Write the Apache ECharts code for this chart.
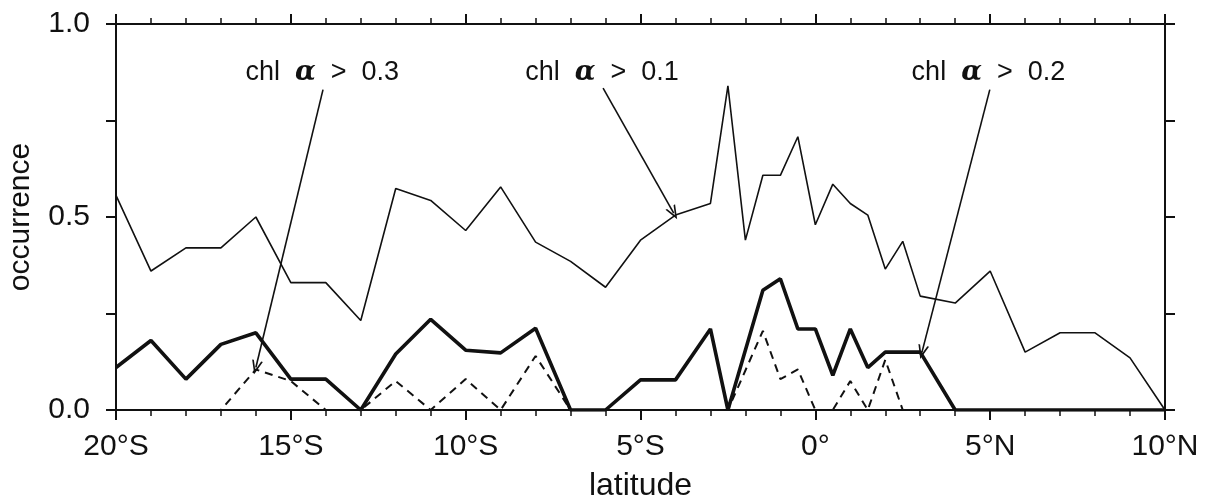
<!DOCTYPE html>
<html>
<head>
<meta charset="utf-8">
<script src="https://cdn.jsdelivr.net/npm/echarts@6/dist/echarts.min.js"></script>
<style>
html,body{margin:0;padding:0;background:#fff;}
#c{width:1207px;height:499px;}
</style>
</head>
<body>
<div id="c"></div>
<script>
// ---- data ----
const lat = [-20,-19,-18,-17,-16,-15,-14,-13,-12,-11,-10,-9,-8,-7,-6,-5,-4,-3,-2.5,-2,-1.5,-1,-0.5,0,0.5,1,1.5,2,2.5,3,4,5,6,7,8,9,10];
const chl01 = [0.556,0.36,0.42,0.42,0.50,0.33,0.33,0.232,0.574,0.543,0.465,0.578,0.435,0.385,0.318,0.44,0.505,0.535,0.84,0.44,0.608,0.608,0.708,0.48,0.585,0.535,0.505,0.365,0.437,0.295,0.277,0.36,0.15,0.2,0.2,0.135,0.0];
const chl02 = [0.11,0.18,0.08,0.17,0.20,0.08,0.08,0,0.145,0.235,0.155,0.148,0.212,0,0,0.078,0.078,0.21,0,null,0.31,0.34,0.21,0.21,0.09,0.21,0.11,0.15,null,0.15,0,0,0,0,0,0,0];
const chl03 = [0,0,0,0,0.105,0.075,0,0,0.075,0,0.08,0,0.14,0,0,0,0,0,0,null,0.205,0.08,0.105,0,0,0.075,0,0.13,0,0,0,0,0,0,0,0,0];

const xTickValues = [-20,-15,-10,-5,0,5,10];
const xTickLabels = ['20°S','15°S','10°S','5°S','0°','5°N','10°N'];
const yTickValues = [0,0.5,1.0];
const yTickLabels = ['0.0','0.5','1.0'];

const annThreshold = ['0.3','0.1','0.2'];
const annLat = [-14.1,-6.1,4.95];
const annVal = [0.873,0.873,0.873];
const arrowFromLat = [-14.08,-6.07,4.99];
const arrowFromVal = [0.83,0.834,0.83];
const arrowToLat = [-16.0,-4.05,3.05];
const arrowToVal = [0.11,0.51,0.15];

// ---- chart ----
const FONT = 'Liberation Sans';
const INK = '#111';
const pairs = (ys) => lat.map((x,i)=>[x, ys[i]]);

const chart = echarts.init(document.getElementById('c'), null, {renderer:'canvas'});

const xAxisCommon = {
  type:'value', min:-20, max:10, interval:5,
  axisLine:{show:true, onZero:false, lineStyle:{color:INK, width:2}},
  axisTick:{show:true, length:10, lineStyle:{color:INK, width:2}},
  minorTick:{show:true, splitNumber:5, length:6, lineStyle:{color:INK, width:1.5}},
  splitLine:{show:false}
};
const yAxisCommon = {
  type:'value', min:0, max:1, interval:0.25,
  axisLine:{show:true, onZero:false, lineStyle:{color:INK, width:2}},
  axisTick:{show:true, length:10, lineStyle:{color:INK, width:2}},
  splitLine:{show:false}
};

const arrowPath = 'path://M0,100 L50,0 L100,100 L84,100 L50,32 L16,100 Z';

chart.setOption({
  animation:false,
  backgroundColor:'#fff',
  grid:{left:116, right:42, top:24, bottom:89, containLabel:false, outerBoundsMode:'none'},
  xAxis:[
    Object.assign({}, xAxisCommon, {
      position:'bottom',
      name:'latitude', nameLocation:'middle', nameGap:60,
      nameTextStyle:{fontFamily:FONT, fontSize:32, color:INK},
      axisLabel:{show:true, margin:22, fontFamily:FONT, fontSize:30, color:INK,
        formatter:(v)=>{const i=xTickValues.indexOf(v); return i>=0?xTickLabels[i]:'';}}
    }),
    Object.assign({}, xAxisCommon, {position:'top', axisLabel:{show:false}})
  ],
  yAxis:[
    Object.assign({}, yAxisCommon, {
      position:'left',
      name:'occurrence', nameLocation:'middle', nameGap:80,
      nameTextStyle:{fontFamily:FONT, fontSize:30, color:INK},
      axisLabel:{show:true, margin:26, fontFamily:FONT, fontSize:30, color:INK,
        formatter:(v)=>{const i=yTickValues.findIndex(t=>Math.abs(t-v)<1e-9); return i>=0?yTickLabels[i]:'';}}
    }),
    Object.assign({}, yAxisCommon, {position:'right', axisLabel:{show:false}})
  ],
  series:[
    {
      name:'chl a > 0.1', type:'line', data:pairs(chl01), showSymbol:false, connectNulls:true,
      lineStyle:{color:INK, width:1.6}, z:3
    },
    {
      name:'chl a > 0.2', type:'line', data:pairs(chl02), showSymbol:false, connectNulls:true,
      lineStyle:{color:INK, width:3.6}, z:4
    },
    {
      name:'chl a > 0.3', type:'line', data:pairs(chl03), showSymbol:false, connectNulls:true,
      lineStyle:{color:INK, width:2, type:[8,6]}, z:2
    },
    {
      name:'annotations', type:'scatter', symbolSize:0, silent:true, z:5,
      itemStyle:{opacity:1, color:INK},
      data: annLat.map((x,i)=>[x, annVal[i]]),
      label:{
        show:true, position:'inside', color:INK, opacity:1,
        formatter:(p)=>'{t|chl  }{a|α}{t|  >  ' + annThreshold[p.dataIndex] + '}',
        rich:{
          t:{fontFamily:FONT, fontSize:27, color:INK, opacity:1},
          a:{fontFamily:'DejaVu Serif', fontSize:27, fontStyle:'italic', fontWeight:'bold', color:INK, opacity:1}
        }
      },
      markLine:{
        silent:true, animation:false,
        symbol:['none', arrowPath], symbolSize:[11,14],
        label:{show:false},
        lineStyle:{color:INK, width:1.6, type:'solid', opacity:1},
        emphasis:{disabled:true},
        data: arrowFromLat.map((x,i)=>[
          {coord:[x, arrowFromVal[i]]},
          {coord:[arrowToLat[i], arrowToVal[i]]}
        ])
      }
    }
  ]
});
</script>
</body>
</html>
